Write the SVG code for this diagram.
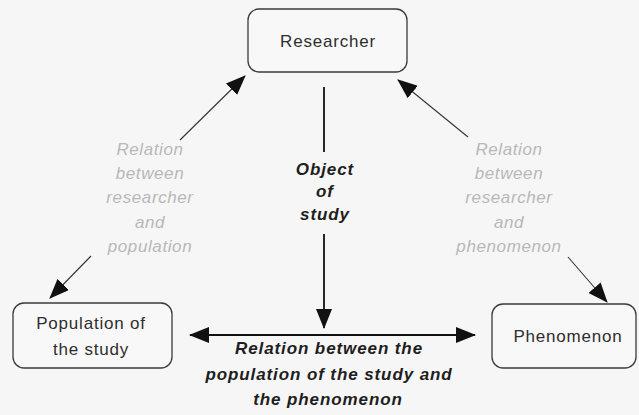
<svg xmlns="http://www.w3.org/2000/svg" width="639" height="415" viewBox="0 0 639 415">
<style>
.bg{fill:#f6f6f6}
.node rect{fill:#f8f8f8;stroke:#3a3a3a;stroke-width:1.3}
.nt{font-family:"Liberation Sans",Arial,sans-serif;font-size:17px;fill:#2e2e2e;letter-spacing:0.8px;text-anchor:middle}
.bl{font-family:"Liberation Sans",Arial,sans-serif;font-size:17px;font-weight:bold;font-style:italic;fill:#1e1e1e;letter-spacing:0.9px;text-anchor:middle}
.gl{font-family:"Liberation Sans",Arial,sans-serif;font-size:17px;font-style:italic;fill:#b8b8b8;letter-spacing:0.6px;text-anchor:middle}
.thin{stroke:#333;stroke-width:1.1;fill:none}
.thick{stroke:#111;stroke-width:1.8;fill:none}
</style>
<defs>
<marker id="ah" markerUnits="userSpaceOnUse" markerWidth="20" markerHeight="16" refX="19" refY="8" orient="auto-start-reverse" viewBox="0 0 20 16">
<path d="M0,0 L20,8 L0,16 z" fill="#111"/>
</marker>
</defs>
<rect class="bg" x="0" y="0" width="639" height="415"/>
<g id="researcher" class="node">
<rect x="248" y="9" width="159" height="63" rx="11"/>
<text class="nt" x="328" y="47">Researcher</text>
</g>
<g id="population" class="node">
<rect x="13" y="303" width="159" height="65" rx="11"/>
<text class="nt" x="91" y="329">Population of</text>
<text class="nt" x="91" y="355">the study</text>
</g>
<g id="phenomenon" class="node">
<rect x="492" y="304" width="144" height="64" rx="11"/>
<text class="nt" x="568" y="342">Phenomenon</text>
</g>
<g id="connectors">
<line class="thin" x1="180" y1="140" x2="245" y2="76" marker-end="url(#ah)"/>
<line class="thin" x1="91" y1="256" x2="50" y2="298" marker-end="url(#ah)"/>
<line class="thin" x1="468" y1="137" x2="398" y2="80" marker-end="url(#ah)"/>
<line class="thin" x1="568" y1="257" x2="607" y2="302" marker-end="url(#ah)"/>
<line class="thick" x1="324" y1="87" x2="324" y2="152"/>
<line class="thick" x1="324" y1="234" x2="324" y2="328" marker-end="url(#ah)"/>
<line class="thick" x1="190" y1="335" x2="475" y2="335" marker-start="url(#ah)" marker-end="url(#ah)"/>
</g>
<g id="labels">
<text class="gl" x="150" y="155">Relation</text>
<text class="gl" x="150" y="179">between</text>
<text class="gl" x="150" y="203">researcher</text>
<text class="gl" x="150" y="228">and</text>
<text class="gl" x="150" y="252">population</text>
<text class="gl" x="509" y="155">Relation</text>
<text class="gl" x="509" y="179">between</text>
<text class="gl" x="509" y="203">researcher</text>
<text class="gl" x="509" y="228">and</text>
<text class="gl" x="509" y="252">phenomenon</text>
<text class="bl" x="325" y="175">Object</text>
<text class="bl" x="325" y="197">of</text>
<text class="bl" x="325" y="220">study</text>
<text class="bl" x="329" y="354">Relation between the</text>
<text class="bl" x="329" y="380">population of the study and</text>
<text class="bl" x="328" y="405">the phenomenon</text>
</g>
</svg>
